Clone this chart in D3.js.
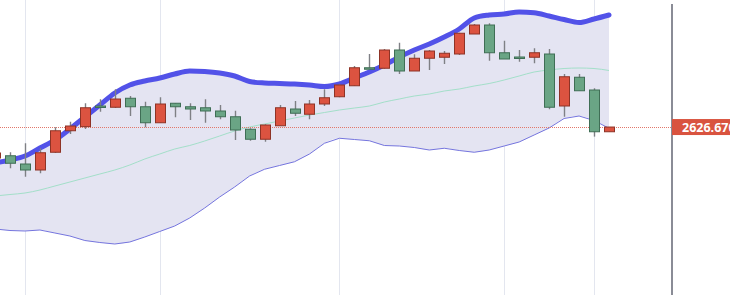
<!DOCTYPE html>
<html>
<head>
<meta charset="utf-8">
<script src="https://cdn.jsdelivr.net/npm/d3@7"></script>
<style>
  html, body { margin: 0; padding: 0; background: #ffffff; }
  #chart { width: 730px; height: 295px; overflow: hidden; }
</style>
</head>
<body>
<div id="chart"></div>
<script>
// OHLC, one entry per bar (left to right)
const opens  = [2601.9, 2603.7, 2597.1, 2592.3, 2606.5, 2623.7, 2627.0, 2643.5, 2642.5, 2649.7,
                2642.9, 2630.1, 2645.7, 2642.9, 2642.1, 2639.5, 2634.9, 2624.9, 2616.9, 2627.7,
                2641.1, 2636.9, 2645.1, 2650.9, 2659.7, 2674.1, 2673.7, 2688.3, 2671.5, 2681.7,
                2682.5, 2685.1, 2701.1, 2708.3, 2686.1, 2682.7, 2682.5, 2685.1, 2643.5, 2666.5,
                2656.3, 2622.9];
const highs  = [2608.3, 2606.5, 2613.7, 2609.7, 2626.5, 2630.9, 2645.7, 2648.9, 2656.9, 2651.5,
                2646.9, 2650.5, 2645.9, 2645.7, 2648.9, 2644.3, 2639.7, 2625.7, 2628.9, 2644.3,
                2647.5, 2648.3, 2656.9, 2661.1, 2675.5, 2685.1, 2689.1, 2694.1, 2684.9, 2688.3,
                2687.5, 2702.1, 2709.1, 2709.7, 2695.7, 2688.3, 2689.7, 2689.1, 2669.1, 2669.1,
                2657.7, 2626.67];
const lows   = [2600.3, 2593.7, 2586.9, 2589.7, 2605.9, 2621.1, 2625.1, 2638.9, 2641.9, 2635.5,
                2626.5, 2630.1, 2634.5, 2632.3, 2630.1, 2632.9, 2616.3, 2615.7, 2614.9, 2627.7,
                2635.5, 2632.9, 2643.5, 2650.5, 2659.5, 2673.3, 2673.3, 2669.1, 2671.5, 2672.3,
                2677.1, 2684.3, 2701.1, 2679.7, 2681.1, 2678.9, 2677.7, 2640.9, 2634.9, 2655.7,
                2619.0, 2622.9];
const closes = [2605.9, 2597.7, 2592.3, 2606.1, 2623.7, 2627.5, 2642.1, 2642.7, 2649.1, 2642.9,
                2630.1, 2645.1, 2642.9, 2641.1, 2639.5, 2634.9, 2624.3, 2616.9, 2628.3, 2642.1,
                2637.7, 2645.1, 2650.1, 2660.3, 2674.1, 2673.3, 2688.3, 2671.5, 2681.7, 2687.5,
                2685.7, 2701.7, 2708.3, 2686.1, 2681.1, 2682.1, 2686.1, 2642.5, 2666.9, 2655.7,
                2622.9, 2626.67];

// Bollinger bands
const bandUpper = [2597.9, 2600.3, 2603.5, 2609.9, 2616.3, 2625.1, 2634.7, 2644.3, 2653.9, 2660.3,
                   2663.5, 2665.9, 2669.1, 2671.5, 2671.1, 2669.9, 2667.5, 2663.1, 2661.9, 2661.5,
                   2661.1, 2660.3, 2659.1, 2661.1, 2665.9, 2670.7, 2676.3, 2682.7, 2688.3, 2693.1,
                   2698.7, 2705.1, 2713.9, 2716.3, 2717.1, 2718.7, 2718.1, 2715.5, 2712.7, 2710.3,
                   2713.1, 2716.3];
const bandMiddle = [2571.5, 2572.7, 2573.9, 2576.3, 2579.5, 2582.7, 2585.9, 2589.1, 2592.3, 2596.3,
                    2601.1, 2605.1, 2609.1, 2611.9, 2615.5, 2619.5, 2623.5, 2626.7, 2629.1, 2631.5,
                    2633.9, 2636.3, 2638.3, 2640.3, 2641.9, 2643.5, 2646.7, 2649.1, 2651.5, 2653.1,
                    2655.5, 2657.1, 2659.5, 2661.5, 2664.3, 2667.5, 2670.7, 2672.3, 2673.5, 2673.9,
                    2673.5, 2671.9];
const bandLower = [2545.1, 2543.9, 2543.5, 2544.3, 2541.9, 2539.5, 2535.9, 2534.3, 2533.1, 2534.7,
                   2538.7, 2543.1, 2547.5, 2553.9, 2561.9, 2570.7, 2578.7, 2587.5, 2592.9, 2595.9,
                   2598.9, 2605.1, 2613.7, 2617.7, 2616.7, 2615.7, 2611.9, 2611.5, 2610.3, 2608.3,
                   2609.7, 2607.9, 2606.5, 2608.3, 2611.5, 2614.7, 2620.3, 2625.9, 2633.5, 2635.5,
                   2631.9, 2625.7];

// bars where a vertical grid line sits
const gridBars = [2, 11, 23, 34, 40];
const lastPrice = 2626.67;
const lastPriceLabel = "2626.670";

const width = 730;
const height = 295;
const axisX = 672;

const data = opens.map((o, i) => ({
  i, open: o, high: highs[i], low: lows[i], close: closes[i],
  up: bandUpper[i], mid: bandMiddle[i], low2: bandLower[i]
}));

const svg = d3.select("#chart").append("svg")
  .attr("width", width)
  .attr("height", height);

const x = d3.scaleLinear()
  .domain([0, data.length - 1])
  .range([-5, 609]);

const y = d3.scaleLinear()
  .domain([2492.3, 2728.3])
  .range([height, 0]);

const plot = svg.append("g");

// vertical grid
plot.selectAll(".grid")
  .data(gridBars)
  .enter()
  .append("line")
  .attr("x1", d => Math.round(x(d)) + 0.5)
  .attr("x2", d => Math.round(x(d)) + 0.5)
  .attr("y1", 0)
  .attr("y2", height)
  .attr("stroke", "#e3e6ef")
  .attr("stroke-width", 1);

// band fill
plot.append("path")
  .datum(data)
  .attr("fill", "#e4e4f2")
  .attr("d", d3.area()
    .x(d => x(d.i))
    .y0(d => y(d.low2))
    .y1(d => y(d.up))
    .curve(d3.curveMonotoneX));

plot.append("path")
  .datum(data)
  .attr("fill", "none")
  .attr("stroke", "#a3dfc9")
  .attr("stroke-width", 1)
  .attr("d", d3.line().x(d => x(d.i)).y(d => y(d.mid)).curve(d3.curveMonotoneX));

plot.append("path")
  .datum(data)
  .attr("fill", "none")
  .attr("stroke", "#7575de")
  .attr("stroke-width", 1)
  .attr("d", d3.line().x(d => x(d.i)).y(d => y(d.low2)));

plot.append("path")
  .datum(data)
  .attr("fill", "none")
  .attr("stroke", "#5252e8")
  .attr("stroke-width", 5)
  .attr("stroke-linecap", "round")
  .attr("stroke-linejoin", "round")
  .attr("d", d3.line().x(d => x(d.i)).y(d => y(d.up)).curve(d3.curveMonotoneX));

// last price dotted line
plot.append("line")
  .attr("x1", 0)
  .attr("x2", axisX)
  .attr("y1", Math.round(y(lastPrice)) + 0.5)
  .attr("y2", Math.round(y(lastPrice)) + 0.5)
  .attr("stroke", "#e2776a")
  .attr("stroke-width", 1)
  .attr("stroke-dasharray", "1,1");

// candles
const candles = plot.selectAll(".candle")
  .data(data)
  .enter()
  .append("g");

candles.append("line")
  .attr("x1", d => Math.round(x(d.i)) + 0.5)
  .attr("x2", d => Math.round(x(d.i)) + 0.5)
  .attr("y1", d => y(d.high))
  .attr("y2", d => y(d.low))
  .attr("stroke", "#7f8085")
  .attr("stroke-width", 1.4);

candles.append("rect")
  .attr("x", d => Math.round(x(d.i)) - 4.5)
  .attr("y", d => y(Math.max(d.open, d.close)))
  .attr("width", 10)
  .attr("height", d => Math.max(1.5, Math.abs(y(d.open) - y(d.close))))
  .attr("fill", d => d.close >= d.open ? "#dc5340" : "#6aa585")
  .attr("stroke", d => d.close >= d.open ? "#8e3326" : "#3f6e55")
  .attr("stroke-width", 1);

// right price axis
svg.append("line")
  .attr("x1", axisX)
  .attr("x2", axisX)
  .attr("y1", 4)
  .attr("y2", height)
  .attr("stroke", "#8a8c96")
  .attr("stroke-width", 2);

svg.append("rect")
  .attr("x", axisX)
  .attr("y", y(lastPrice) - 8)
  .attr("width", width - axisX)
  .attr("height", 16)
  .attr("fill", "#d9533f");

svg.append("text")
  .attr("x", 682)
  .attr("y", y(lastPrice))
  .attr("dominant-baseline", "central")
  .style("fill", "white")
  .style("font-family", "'Open Sans', sans-serif")
  .style("font-size", "12.5px")
  .style("font-weight", "bold")
  .text(lastPriceLabel);
</script>
</body>
</html>
